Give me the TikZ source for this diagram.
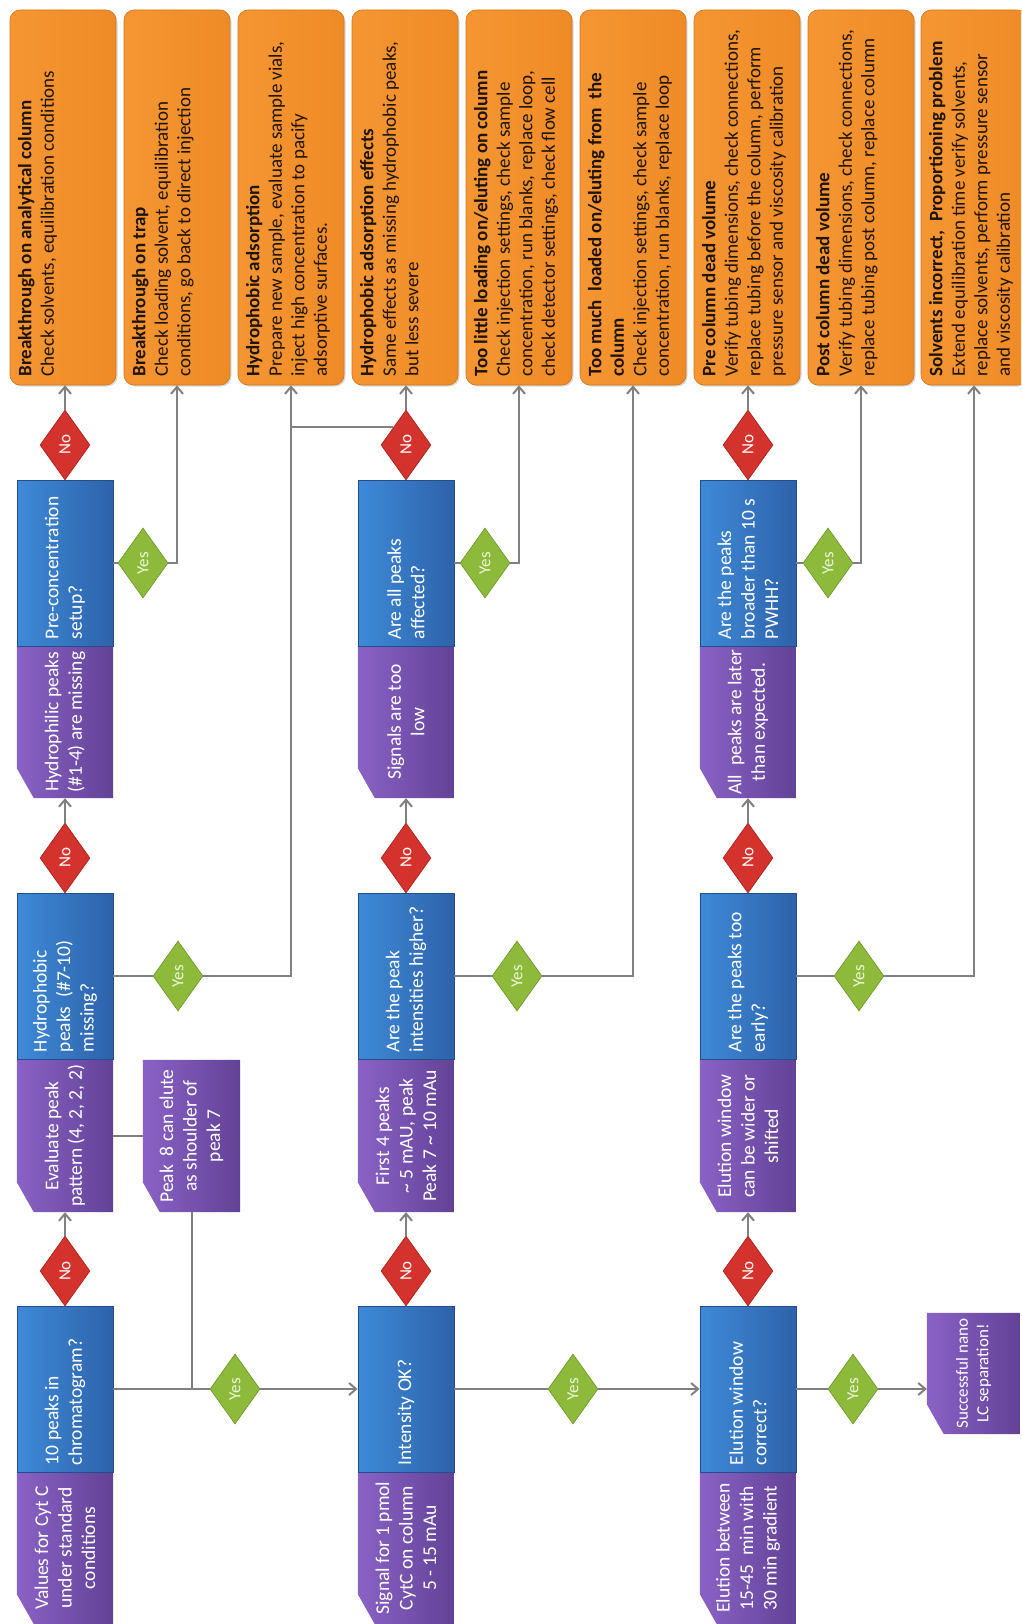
\documentclass[tikz,border=0pt]{standalone}
\usepackage{fontspec}
\setmainfont{Carlito}
\usetikzlibrary{arrows.meta,shapes.geometric,calc,shadows}
\pgfdeclarelayer{back}
\pgfsetlayers{back,main}

\definecolor{bluL}{RGB}{62,138,216}
\definecolor{bluR}{RGB}{46,98,170}
\definecolor{bluD}{RGB}{36,78,138}
\definecolor{purL}{RGB}{138,98,198}
\definecolor{purR}{RGB}{98,66,150}
\definecolor{orL}{RGB}{245,150,50}
\definecolor{orR}{RGB}{239,139,38}
\definecolor{orD}{RGB}{208,118,32}
\definecolor{orT}{RGB}{30,20,10}
\definecolor{noR}{RGB}{212,50,44}
\definecolor{noD}{RGB}{165,32,26}
\definecolor{yesG}{RGB}{142,186,60}
\definecolor{yesD}{RGB}{106,148,40}
\definecolor{yesT}{RGB}{236,246,216}
\definecolor{lineG}{RGB}{128,128,128}

\newcommand{\qfont}{\fontsize{19.5}{23.5}\selectfont}
\newcommand{\ofont}{\fontsize{19}{22.5}\selectfont}
\newcommand{\dfont}{\fontsize{17}{20}\selectfont}
% question text: left aligned, reading upwards
\newcommand{\qtext}[1]{\rotatebox{90}{\parbox{152pt}{\qfont\raggedright #1}}}
% statement text: centred, reading upwards
\newcommand{\ptext}[1]{\rotatebox{90}{\parbox{150pt}{\qfont\centering #1}}}
% remedy text: bold title and body
\newcommand{\otext}[2]{\rotatebox{90}{\parbox[c][90pt][t]{358pt}{\ofont\raggedright\textbf{#1}\\#2}}}
% purple box with a cut lower left corner
\newcommand{\purplefill}[1]{\shade[left color=purL,right color=purR] (#1.north west) -- (#1.north east) -- (#1.south east) -- ([xshift=17pt]#1.south west) -- ([yshift=30pt]#1.south west) -- cycle;}

\tikzset{
  question/.style={rectangle, minimum width=96pt, minimum height=166pt, inner sep=0pt,
    left color=bluL, right color=bluR, draw=bluD, line width=0.8pt, text=white},
  statement/.style={rectangle, minimum width=96pt, minimum height=152pt, inner sep=0pt, text=white},
  remedy/.style={rectangle, rounded corners=10pt, minimum width=106pt, minimum height=375pt,
    inner sep=0pt, left color=orL, right color=orR, draw=orD, line width=0.6pt, text=orT,
    drop shadow={shadow xshift=1.5pt, shadow yshift=-1.5pt, opacity=0.3}},
  nobox/.style={diamond, minimum width=50pt, minimum height=70pt, inner sep=0pt,
    fill=noR, draw=noD, line width=0.6pt, text=white},
  yesbox/.style={diamond, minimum width=50pt, minimum height=70pt, inner sep=0pt,
    fill=yesG, draw=yesD, line width=0.6pt, text=yesT},
  conn/.style={draw=lineG, line width=2pt},
  arr/.style={conn, -{Straight Barb[length=7pt,width=12pt]}}
}

\begin{document}
\begin{tikzpicture}[x=1pt,y=-1pt]
\clip (0,0) rectangle (1021,1624);

% remedies along the top
\node[remedy] (o1) at (63,197.5) {\otext{Breakthrough on analytical column}{Check solvents, equilibration conditions}};
\node[remedy] (o2) at (177,197.5) {\otext{Breakthrough on trap}{Check loading solvent, equilibration\\conditions, go back to direct injection}};
\node[remedy] (o3) at (291,197.5) {\otext{Hydrophobic adsorption}{Prepare new sample, evaluate sample vials,\\inject high concentration to pacify\\adsorptive surfaces.}};
\node[remedy] (o4) at (405,197.5) {\otext{Hydrophobic adsorption effects}{Same effects as missing hydrophobic peaks,\\but less severe}};
\node[remedy] (o5) at (519,197.5) {\otext{Too little loading on/eluting on column}{Check injection settings, check sample\\concentration, run blanks, replace loop,\\check detector settings, check flow cell}};
\node[remedy] (o6) at (633,197.5) {\otext{Too much\ \ loaded on/eluting from\ \ the\\column}{Check injection settings, check sample\\concentration, run blanks, replace loop}};
\node[remedy] (o7) at (747,197.5) {\otext{Pre column dead volume}{Verify tubing dimensions, check connections,\\replace tubing before the column, perform\\pressure sensor and viscosity calibration}};
\node[remedy] (o8) at (861,197.5) {\otext{Post column dead volume}{Verify tubing dimensions, check connections,\\replace tubing post column, replace column}};
\node[remedy] (o9) at (974,197.5) {\otext{Solvents incorrect,\ \ Proportioning problem}{Extend equilibration time verify solvents,\\replace solvents, perform pressure sensor\\and viscosity calibration}};

% first column: peak pattern
\node[statement] (p11) at (65,1548) {\ptext{Values for Cyt C\\under standard\\conditions}};
\node[question] (q11) at (65,1389) {\qtext{10 peaks in\\chromatogram?}};
\node[nobox] (n11) at (65,1271) {\rotatebox{90}{\dfont No}};
\node[statement] (p12) at (65,1136) {\ptext{Evaluate peak\\pattern (4, 2, 2, 2)}};
\node[question] (q12) at (65,976) {\qtext{Hydrophobic\\peaks\ \ (\#7-10)\\missing?}};
\node[nobox] (n12) at (65,858) {\rotatebox{90}{\dfont No}};
\node[statement] (p13) at (65,722) {\ptext{Hydrophilic peaks\\(\#1-4) are missing}};
\node[question] (q13) at (65,563) {\qtext{Pre-concentration\\setup?}};
\node[nobox] (n13) at (65,445) {\rotatebox{90}{\dfont No}};
\node[statement, minimum width=97pt] (pk) at (191.5,1136) {\ptext{Peak\ \ 8 can elute\\as shoulder of\\peak 7}};
\node[yesbox] (y1) at (235,1389) {\rotatebox{90}{\dfont Yes}};
\node[yesbox] (y2) at (178,976) {\rotatebox{90}{\dfont Yes}};
\node[yesbox] (y3) at (143,563) {\rotatebox{90}{\dfont Yes}};

% second column: intensity
\node[statement] (p21) at (406,1548) {\ptext{Signal for 1 pmol\\CytC on column\\5 - 15 mAu}};
\node[question] (q21) at (406,1389) {\qtext{Intensity OK?}};
\node[nobox] (n21) at (406,1271) {\rotatebox{90}{\dfont No}};
\node[statement] (p22) at (406,1136) {\ptext{First 4 peaks\\\textasciitilde{} 5 mAU, peak\\Peak 7 \textasciitilde{} 10 mAu}};
\node[question] (q22) at (406,976) {\qtext{Are the peak\\intensities higher?}};
\node[nobox] (n22) at (406,858) {\rotatebox{90}{\dfont No}};
\node[statement] (p23) at (406,722) {\ptext{Signals are too\\low}};
\node[question] (q23) at (406,563) {\qtext{Are all peaks\\affected?}};
\node[nobox] (n23) at (406,445) {\rotatebox{90}{\dfont No}};
\node[yesbox] (y21) at (573,1389) {\rotatebox{90}{\dfont Yes}};
\node[yesbox] (y22) at (517,976) {\rotatebox{90}{\dfont Yes}};
\node[yesbox] (y23) at (485,563) {\rotatebox{90}{\dfont Yes}};

% third column: elution window
\node[statement] (p31) at (748,1548) {\ptext{Elution between\\15-45\ \ min with\\30 min gradient}};
\node[question] (q31) at (748,1389) {\qtext{Elution window\\correct?}};
\node[nobox] (n31) at (748,1271) {\rotatebox{90}{\dfont No}};
\node[statement] (p32) at (748,1136) {\ptext{Elution window\\can be wider or\\shifted}};
\node[question] (q32) at (748,976) {\qtext{Are the peaks too\\early?}};
\node[nobox] (n32) at (748,858) {\rotatebox{90}{\dfont No}};
\node[statement] (p33) at (748,722) {\ptext{All\ \ peaks are later\\than expected.}};
\node[question] (q33) at (748,563) {\qtext{Are the peaks\\broader than 10 s\\PWHH?}};
\node[nobox] (n33) at (748,445) {\rotatebox{90}{\dfont No}};
\node[yesbox] (y31) at (853,1389) {\rotatebox{90}{\dfont Yes}};
\node[yesbox] (y32) at (859,976) {\rotatebox{90}{\dfont Yes}};
\node[yesbox] (y33) at (828,563) {\rotatebox{90}{\dfont Yes}};

\node[statement, minimum width=93pt, minimum height=121pt] (succ) at (973.5,1373.5)
  {\rotatebox{90}{\parbox{118pt}{\fontsize{17}{20.5}\selectfont\centering Successful nano\\LC separation!}}};

% white page and purple fills behind the statements
\begin{pgfonlayer}{back}
\fill[white] (0,0) rectangle (1021,1624);
\purplefill{p11}\purplefill{p12}\purplefill{p13}\purplefill{pk}
\purplefill{p21}\purplefill{p22}\purplefill{p23}
\purplefill{p31}\purplefill{p32}\purplefill{p33}
\purplefill{succ}
\end{pgfonlayer}

% connectors, first column
\draw[arr] (n11.north) -- (p12.south);
\draw[arr] (n12.north) -- (p13.south);
\draw[arr] (n13.north) -- (n13.north |- o1.south);
\draw[conn] (q11.east) -- (y1.west);
\draw[arr] (y1.east) -- (q21.west);
\draw[conn] (p12.east) -- (pk.west);
\draw[conn] (pk.south) -- (pk.south |- q11.east);
\draw[conn] (q12.east) -- (y2.west);
\draw[arr] (y2.east) -| (o3.south);
\draw[conn] (q13.east) -- (y3.west);
\draw[arr] (y3.east) -| (o2.south);

% connectors, second column
\draw[arr] (n21.north) -- (p22.south);
\draw[arr] (n22.north) -- (p23.south);
\draw[arr] (n23.north) -- (n23.north |- o4.south);
\draw[conn] (n23.north west) -- (n23.north west -| o3.south);
\draw[conn] (q21.east) -- (y21.west);
\draw[arr] (y21.east) -- (q31.west);
\draw[conn] (q22.east) -- (y22.west);
\draw[arr] (y22.east) -| (o6.south);
\draw[conn] (q23.east) -- (y23.west);
\draw[arr] (y23.east) -| (o5.south);

% connectors, third column
\draw[arr] (n31.north) -- (p32.south);
\draw[arr] (n32.north) -- (p33.south);
\draw[arr] (n33.north) -- (n33.north |- o7.south);
\draw[conn] (q31.east) -- (y31.west);
\draw[arr] (y31.east) -- (y31.east -| succ.west);
\draw[conn] (q32.east) -- (y32.west);
\draw[arr] (y32.east) -| (o9.south);
\draw[conn] (q33.east) -- (y33.west);
\draw[arr] (y33.east) -| (o8.south);
\end{tikzpicture}
\end{document}
